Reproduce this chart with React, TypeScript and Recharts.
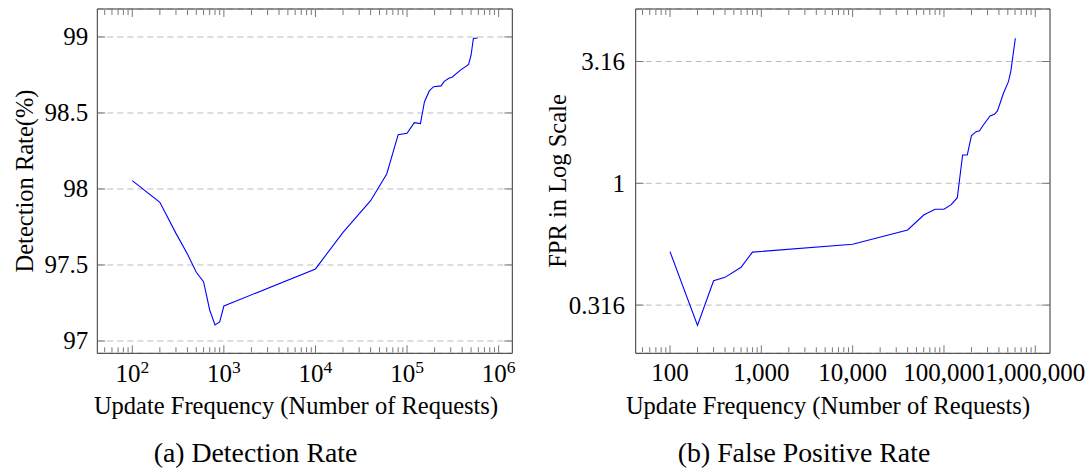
import React from 'react';
import { LineChart, Line, XAxis, YAxis, CartesianGrid } from 'recharts';

const FONT = '"Liberation Serif", "Times New Roman", serif';

// ---------- Panel (a): Detection Rate ----------
const freqA = [100, 200, 300, 400, 500, 600, 700, 800, 900, 1000, 10000, 20000, 40000, 60000, 80000, 100000, 120000, 140000, 155000, 175000, 195000, 235000, 255000, 285000, 310000, 380000, 470000, 500000, 530000, 590000];
const detectionRate = [98.055, 97.912, 97.708, 97.572, 97.452, 97.39, 97.204, 97.105, 97.125, 97.23, 97.474, 97.715, 97.923, 98.099, 98.357, 98.366, 98.436, 98.43, 98.574, 98.645, 98.673, 98.678, 98.708, 98.728, 98.735, 98.78, 98.82, 98.88, 98.99, 98.993];
const xTicksA = [100, 1000, 10000, 100000, 1000000];
const xTickExpA = ['2', '3', '4', '5', '6'];
const yTicksA = [97, 97.5, 98, 98.5, 99];
const yTickLabelsA = ['97', '97.5', '98', '98.5', '99'];

// ---------- Panel (b): False Positive Rate ----------
const freqB = [100, 200, 300, 400, 600, 800, 10000, 40000, 60000, 80000, 100000, 120000, 140000, 160000, 180000, 200000, 225000, 245000, 270000, 320000, 357000, 385000, 448000, 508000, 540000, 605000];
const fpr = [0.524, 0.261, 0.398, 0.411, 0.452, 0.522, 0.562, 0.643, 0.741, 0.782, 0.782, 0.817, 0.873, 1.307, 1.307, 1.569, 1.629, 1.644, 1.735, 1.889, 1.92, 1.981, 2.342, 2.613, 2.89, 3.94];
const xTicksB = [100, 1000, 10000, 100000, 1000000];
const xTickLabelsB = ['100', '1,000', '10,000', '100,000', '1,000,000'];
const yTicksB = [0.316228, 1, 3.16228];
const yTickLabelsB = ['0.316', '1', '3.16'];

// minor (log) ticks shared by both x axes
const minorTicks = [
  50, 60, 70, 80, 90,
  200, 300, 400, 500, 600, 700, 800, 900,
  2000, 3000, 4000, 5000, 6000, 7000, 8000, 9000,
  20000, 30000, 40000, 50000, 60000, 70000, 80000, 90000,
  200000, 300000, 400000, 500000, 600000, 700000, 800000, 900000,
];

const dataA = freqA.map((x, i) => ({ x, y: detectionRate[i] }));
const dataB = freqB.map((x, i) => ({ x, y: fpr[i] }));

const FRAME = '#333';
const TICK = '#777';

const EmptyTick = () => <g />;

function Panel(p: any) {
  const xc = {
    type: 'number' as const,
    scale: 'log' as const,
    domain: p.xDomain,
    allowDataOverflow: true,
    dataKey: 'x',
    interval: 0 as const,
  };
  const yc = {
    type: 'number' as const,
    scale: p.yScale,
    domain: p.yDomain,
    allowDataOverflow: true,
    interval: 0 as const,
    ticks: p.yTicks,
  };
  const xLabel = () => (
    <g>
      <text x={p.xTitleX} y={414} textAnchor="middle" fontFamily={FONT} fontSize={24.5} fill="#000">{p.xTitle}</text>
      <text x={p.captionX} y={462} textAnchor="middle" fontFamily={FONT} fontSize={27.8} fill="#000">{p.caption}</text>
    </g>
  );
  const yLabel = () => (
    <text x={p.yTitleX} y={181} transform={`rotate(-90, ${p.yTitleX}, 181)`} textAnchor="middle" fontFamily={FONT} fontSize={24.5} fill="#000">{p.yTitle}</text>
  );
  const yTick = (t: any) => {
    const i = p.yTicks.indexOf(t.payload.value);
    return (
      <text x={t.x} y={t.y + 8.5} textAnchor="end" fontFamily={FONT} fontSize={25} fill="#000">{p.yTickLabels[i]}</text>
    );
  };
  return (
    <div style={{ position: 'absolute', left: p.left, top: 0 }}>
      <LineChart width={p.width} height={473} data={p.data} margin={p.margin}>
        <CartesianGrid xAxisId="x" yAxisId="y" vertical={false} horizontal stroke="#bdbdbd" strokeDasharray="6 4" />
        <XAxis xAxisId="x" {...xc} orientation="bottom" height={40} ticks={p.xTicks} tickLine={false} tickSize={0} tickMargin={0} axisLine={{ stroke: FRAME }} tick={p.xTick} label={xLabel} />
        <XAxis xAxisId="xb" {...xc} orientation="bottom" mirror height={1} ticks={p.xTicks} tick={EmptyTick} axisLine={false} tickSize={8} tickLine={{ stroke: TICK }} />
        <XAxis xAxisId="xbm" {...xc} orientation="bottom" mirror height={1} ticks={minorTicks} tick={EmptyTick} axisLine={false} tickSize={5} tickLine={{ stroke: TICK }} />
        <XAxis xAxisId="xt" {...xc} orientation="top" mirror height={1} ticks={p.xTicks} tick={EmptyTick} axisLine={{ stroke: FRAME }} tickSize={8} tickLine={{ stroke: TICK }} />
        <XAxis xAxisId="xtm" {...xc} orientation="top" mirror height={1} ticks={minorTicks} tick={EmptyTick} axisLine={false} tickSize={5} tickLine={{ stroke: TICK }} />
        <YAxis yAxisId="y" {...yc} orientation="left" width={60} tickLine={false} tickSize={0} tickMargin={p.yTickMargin} axisLine={{ stroke: FRAME }} tick={yTick} label={yLabel} />
        <YAxis yAxisId="yl" {...yc} orientation="left" mirror width={1} tick={EmptyTick} axisLine={false} tickSize={8} tickLine={{ stroke: TICK }} />
        <YAxis yAxisId="yr" {...yc} orientation="right" mirror width={1} tick={EmptyTick} axisLine={{ stroke: FRAME }} tickSize={8} tickLine={{ stroke: TICK }} />
        <Line xAxisId="x" yAxisId="y" type="linear" dataKey="y" stroke="#0000ff" strokeWidth={1.1} dot={false} activeDot={false} isAnimationActive={false} />
      </LineChart>
    </div>
  );
}

const xTickA = (t: any) => {
  const i = xTicksA.indexOf(t.payload.value);
  return (
    <text x={t.x} y={t.y + 29} textAnchor="middle" fontFamily={FONT} fontSize={25} fill="#000">
      <tspan>10</tspan>
      <tspan dy={-9.5} fontSize={17.5}>{xTickExpA[i]}</tspan>
    </text>
  );
};

const xTickB = (t: any) => {
  const i = xTicksB.indexOf(t.payload.value);
  return (
    <text x={t.x} y={t.y + 28} textAnchor="middle" fontFamily={FONT} fontSize={25} fill="#000">{xTickLabelsB[i]}</text>
  );
};

export default function App() {
  return (
    <div style={{ position: 'absolute', left: 0, top: 0, width: 1089, height: 473, background: '#fff' }}>
      <Panel
        left={0}
        width={545}
        margin={{ top: 9, right: 32.7, bottom: 79.7, left: 37.3 }}
        data={dataA}
        xDomain={[41.5, 1410000]}
        yDomain={[96.919, 99.184]}
        yScale="linear"
        xTicks={xTicksA}
        xTick={xTickA}
        yTicks={yTicksA}
        yTickLabels={yTickLabelsA}
        yTickMargin={9}
        xTitle="Update Frequency (Number of Requests)"
        xTitleX={296}
        caption="(a) Detection Rate"
        captionX={255.5}
        yTitle="Detection Rate(%)"
        yTitleX={33}
      />
      <Panel
        left={544}
        width={545}
        margin={{ top: 9, right: 39, bottom: 79.7, left: 31.7 }}
        data={dataB}
        xDomain={[42.1, 1449000]}
        yDomain={[0.2005, 5.195]}
        yScale="log"
        xTicks={xTicksB}
        xTick={xTickB}
        yTicks={yTicksB}
        yTickLabels={yTickLabelsB}
        yTickMargin={10.7}
        xTitle="Update Frequency (Number of Requests)"
        xTitleX={284}
        caption="(b) False Positive Rate"
        captionX={260}
        yTitle="FPR in Log Scale"
        yTitleX={22}
      />
    </div>
  );
}
